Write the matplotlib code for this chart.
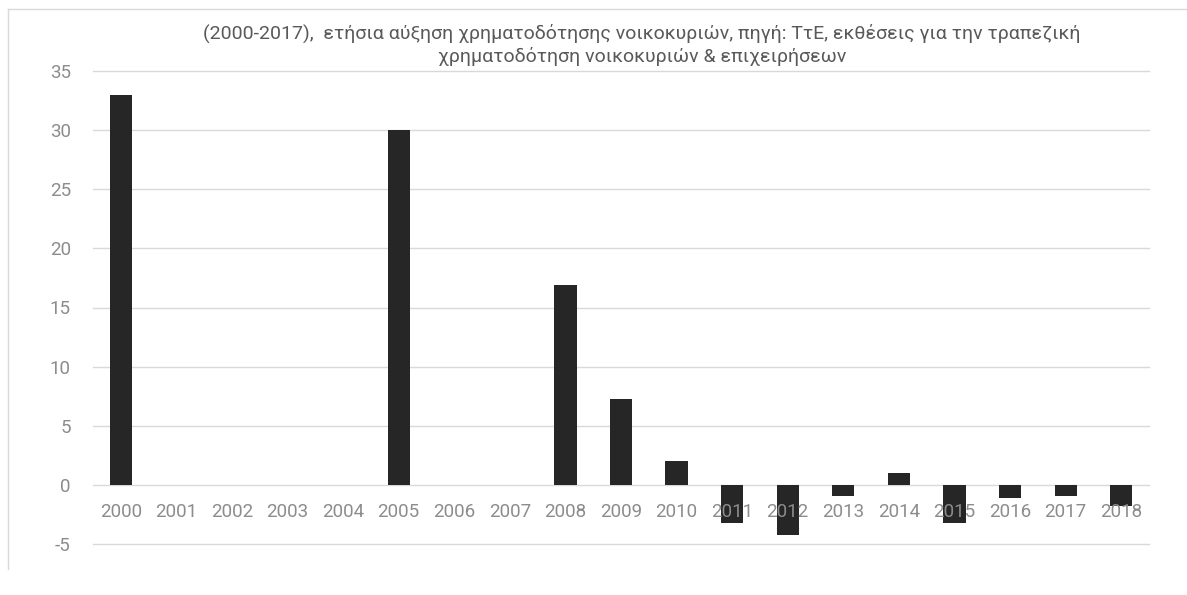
import matplotlib.pyplot as plt
from matplotlib.lines import Line2D

# data
years = ['2000', '2001', '2002', '2003', '2004', '2005', '2006', '2007', '2008', '2009',
         '2010', '2011', '2012', '2013', '2014', '2015', '2016', '2017', '2018']
growth = [33.0, 0, 0, 0, 0, 30.0, 0, 0, 16.9, 7.3,
          2.0, -3.2, -4.2, -0.9, 1.0, -3.2, -1.15, -0.95, -1.8]
yticks = [-5, 0, 5, 10, 15, 20, 25, 30, 35]

title = ('(2000-2017),  ετήσια αύξηση χρηματοδότησης νοικοκυριών, πηγή: ΤτΕ, εκθέσεις για την τραπεζική\n'
         'χρηματοδότηση νοικοκυριών & επιχειρήσεων')

plt.rcParams['font.family'] = ['Roboto', 'DejaVu Sans']

fig = plt.figure(figsize=(11.87, 5.95), dpi=100)
ax = fig.add_axes([93 / 1187, 1 - 544 / 595, (1149 - 93) / 1187, (544 - 71) / 595])

x = list(range(len(years)))
ax.bar(x, growth, width=0.4, color='#262626', zorder=2)

ax.set_xlim(-0.5, len(years) - 0.5)
ax.set_ylim(-5, 35)
ax.set_yticks(yticks)
ax.set_yticklabels([str(t) for t in yticks])
ax.tick_params(axis='y', length=0, pad=16, labelsize=13.5, labelcolor='#8c8c8c')
ax.set_xticks([])
ax.grid(axis='y', color='#d9d9d9', lw=1.0, zorder=0)
ax.set_axisbelow(True)
for gl in ax.get_ygridlines():
    gl.set_clip_on(False)
for s in ax.spines.values():
    s.set_visible(False)

# year labels sit just under the zero line, over the negative bars
for i, y in enumerate(years):
    ax.annotate(y, (i, 0), xytext=(0, -23), textcoords='offset points',
                ha='center', va='baseline', fontsize=13.5, color='#8c8c8c', zorder=5)

fig.text(0.541, 1 - 45 / 595, title, ha='center', va='center', fontsize=14,
         color='#595959', linespacing=1.25)

# chart frame (top and left edges visible)
fig.add_artist(Line2D([8 / 1187, 1.0], [1 - 9 / 595, 1 - 9 / 595], color='#d9d9d9', lw=1.0))
fig.add_artist(Line2D([8 / 1187, 8 / 1187], [1 - 9 / 595, 1 - 569 / 595], color='#d9d9d9', lw=1.0))

fig.savefig('out.png', dpi=100)
